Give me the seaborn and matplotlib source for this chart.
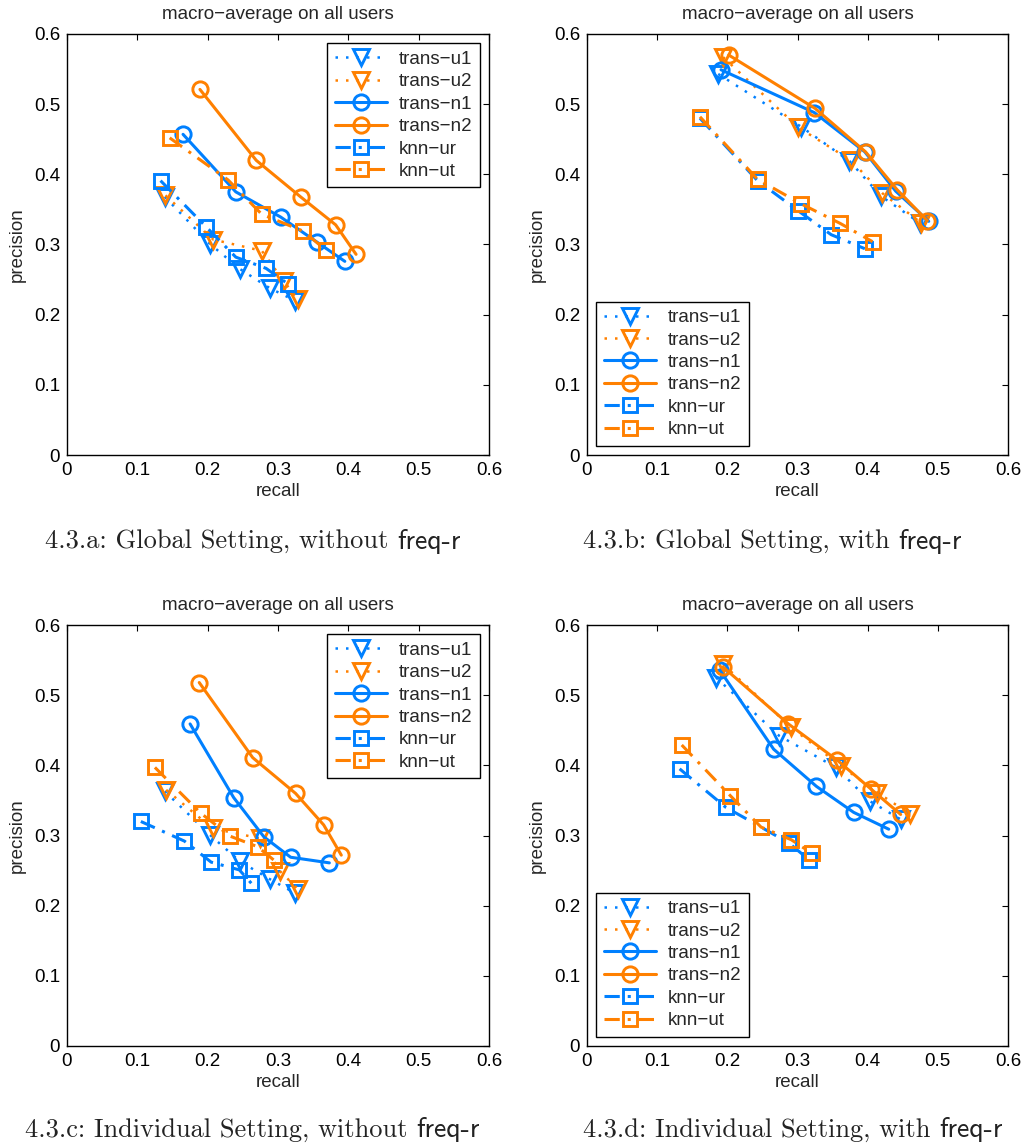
import matplotlib
matplotlib.use("Agg")
import matplotlib.pyplot as plt
import numpy as np
import pandas as pd
import seaborn as sns

# ---------------- data ----------------
series_names = ["trans\u2212u1", "trans\u2212u2", "trans\u2212n1", "trans\u2212n2", "knn\u2212ur", "knn\u2212ut"]

# panel a: Global Setting, without freq-r
recall_a = [
    [0.139, 0.203, 0.246, 0.288, 0.324],
    [0.140, 0.208, 0.277, 0.308, 0.328],
    [0.165, 0.240, 0.304, 0.356, 0.395],
    [0.189, 0.269, 0.332, 0.382, 0.411],
    [0.133, 0.198, 0.240, 0.283, 0.314],
    [0.146, 0.229, 0.277, 0.336, 0.368],
]
precision_a = [
    [0.368, 0.301, 0.265, 0.238, 0.220],
    [0.370, 0.307, 0.291, 0.248, 0.222],
    [0.457, 0.375, 0.339, 0.303, 0.276],
    [0.521, 0.420, 0.368, 0.328, 0.286],
    [0.391, 0.325, 0.282, 0.266, 0.244],
    [0.452, 0.392, 0.343, 0.319, 0.292],
]

# panel b: Global Setting, with freq-r
recall_b = [
    [0.187, 0.305, 0.374, 0.419, 0.474],
    [0.194, 0.301, 0.376, 0.421, 0.476],
    [0.191, 0.324, 0.396, 0.440, 0.487],
    [0.202, 0.325, 0.397, 0.442, 0.485],
    [0.161, 0.243, 0.301, 0.348, 0.396],
    [0.161, 0.243, 0.305, 0.361, 0.407],
]
precision_b = [
    [0.543, 0.468, 0.419, 0.369, 0.331],
    [0.567, 0.467, 0.420, 0.373, 0.331],
    [0.549, 0.488, 0.432, 0.376, 0.333],
    [0.570, 0.494, 0.432, 0.378, 0.334],
    [0.480, 0.391, 0.348, 0.314, 0.294],
    [0.482, 0.393, 0.358, 0.330, 0.304],
]

# panel c: Individual Setting, without freq-r
recall_c = [
    [0.139, 0.203, 0.246, 0.288, 0.324],
    [0.141, 0.207, 0.274, 0.303, 0.328],
    [0.175, 0.237, 0.280, 0.318, 0.373],
    [0.188, 0.264, 0.325, 0.365, 0.390],
    [0.105, 0.167, 0.205, 0.245, 0.262],
    [0.125, 0.190, 0.232, 0.271, 0.294],
]
precision_c = [
    [0.363, 0.301, 0.263, 0.238, 0.218],
    [0.365, 0.310, 0.296, 0.249, 0.224],
    [0.459, 0.354, 0.298, 0.269, 0.261],
    [0.518, 0.411, 0.360, 0.315, 0.272],
    [0.320, 0.292, 0.262, 0.251, 0.232],
    [0.397, 0.332, 0.299, 0.284, 0.265],
]

# panel d: Individual Setting, with freq-r
recall_d = [
    [0.184, 0.274, 0.355, 0.403, 0.447],
    [0.194, 0.291, 0.362, 0.414, 0.460],
    [0.189, 0.266, 0.327, 0.380, 0.430],
    [0.194, 0.287, 0.357, 0.405, 0.447],
    [0.132, 0.198, 0.248, 0.288, 0.317],
    [0.135, 0.204, 0.248, 0.291, 0.320],
]
precision_d = [
    [0.525, 0.442, 0.397, 0.349, 0.323],
    [0.544, 0.454, 0.399, 0.361, 0.331],
    [0.536, 0.423, 0.370, 0.333, 0.309],
    [0.540, 0.459, 0.407, 0.366, 0.330],
    [0.395, 0.340, 0.312, 0.289, 0.265],
    [0.429, 0.357, 0.312, 0.294, 0.275],
]

tick_values = [0, 0.1, 0.2, 0.3, 0.4, 0.5, 0.6]
tick_labels = ["0", "0.1", "0.2", "0.3", "0.4", "0.5", "0.6"]
title_text = "macro\u2212average on all users"
captions = [
    ("4.3.a: Global Setting, without ", "freq-r"),
    ("4.3.b: Global Setting, with ", "freq-r"),
    ("4.3.c: Individual Setting, without ", "freq-r"),
    ("4.3.d: Individual Setting, with ", "freq-r"),
]

# ---------------- style ----------------
sns.set_style("white")
plt.rcParams["font.family"] = ["Liberation Sans", "DejaVu Sans"]
plt.rcParams["axes.unicode_minus"] = True

BLUE = (0.0, 0.5, 1.0)
ORANGE = (1.0, 0.5, 0.0)
colors = [BLUE, ORANGE, BLUE, ORANGE, BLUE, ORANGE]
linestyles = [(0, (1.0, 3.2)), (0, (1.0, 3.2)), "-", "-", (0, (5.0, 2.6, 1.0, 2.6)), (0, (5.0, 2.6, 1.0, 2.6))]
linewidths = [1.8, 1.8, 2.2, 2.2, 2.2, 2.2]
markers = ["v", "v", "o", "o", "s", "s"]
msizes = [11, 11, 11, 11, 10, 10]

W, H = 1026, 1146
fig = plt.figure(figsize=(W / 100, H / 100), dpi=100)

# axes boxes in pixels: left, top, right, bottom
boxes = [(67, 34, 489, 455), (587, 34, 1008, 455), (67, 625, 489, 1046), (587, 625, 1008, 1046)]
panels = [(recall_a, precision_a), (recall_b, precision_b), (recall_c, precision_c), (recall_d, precision_d)]
legend_locs = ["upper right", "lower left", "upper right", "lower left"]

axes = []
for (l, t, r, b), (rec, prec), loc in zip(boxes, panels, legend_locs):
    ax = fig.add_axes([l / W, 1 - b / H, (r - l) / W, (b - t) / H])
    axes.append(ax)
    for i, name in enumerate(series_names):
        df = pd.DataFrame({"recall": rec[i], "precision": prec[i]})
        sns.lineplot(data=df, x="recall", y="precision", ax=ax, sort=False, estimator=None,
                     color=colors[i], linestyle=linestyles[i], linewidth=linewidths[i],
                     marker=markers[i], markersize=msizes[i], markerfacecolor="none",
                     markeredgecolor=colors[i], markeredgewidth=2.1, label=name)
    ax.set_xlim(0, 0.6)
    ax.set_ylim(0, 0.6)
    ax.set_xticks(tick_values)
    ax.set_xticklabels(tick_labels)
    ax.set_yticks(tick_values)
    ax.set_yticklabels(tick_labels)
    ax.tick_params(direction="in", top=True, right=True, length=4, width=0.8,
                   labelsize=13.5, colors="black", pad=5)
    for s in ax.spines.values():
        s.set_color("black")
        s.set_linewidth(1.0)
    ax.set_xlabel("recall", fontsize=13.5, labelpad=3)
    ax.set_ylabel("precision", fontsize=13.5, labelpad=6)
    ax.set_title(title_text, fontsize=13.5, pad=11)
    leg = ax.legend(loc=loc, fontsize=13.5, frameon=True, fancybox=False, framealpha=1,
                    edgecolor="black", handlelength=2.8, handletextpad=0.6,
                    labelspacing=0.28, borderpad=0.4, borderaxespad=0.5, numpoints=1)
    leg.get_frame().set_linewidth(1.0)

# captions: serif text followed by sans "freq-r"
cap_pos = [(45, 541), (583, 541), (25, 1130), (583, 1130)]
renderer = fig.canvas.get_renderer()
for (x, y), (serif_part, sans_part) in zip(cap_pos, captions):
    t1 = fig.text(x / W, 1 - y / H, serif_part, family="cmr10", fontsize=19,
                  ha="left", va="center", color="#222222")
    bb = t1.get_window_extent(renderer=renderer)
    fig.text(bb.x1 / W, 1 - y / H, sans_part, family="cmss10", fontsize=20,
             ha="left", va="center", color="#222222")

fig.savefig("out.png", dpi=100)
